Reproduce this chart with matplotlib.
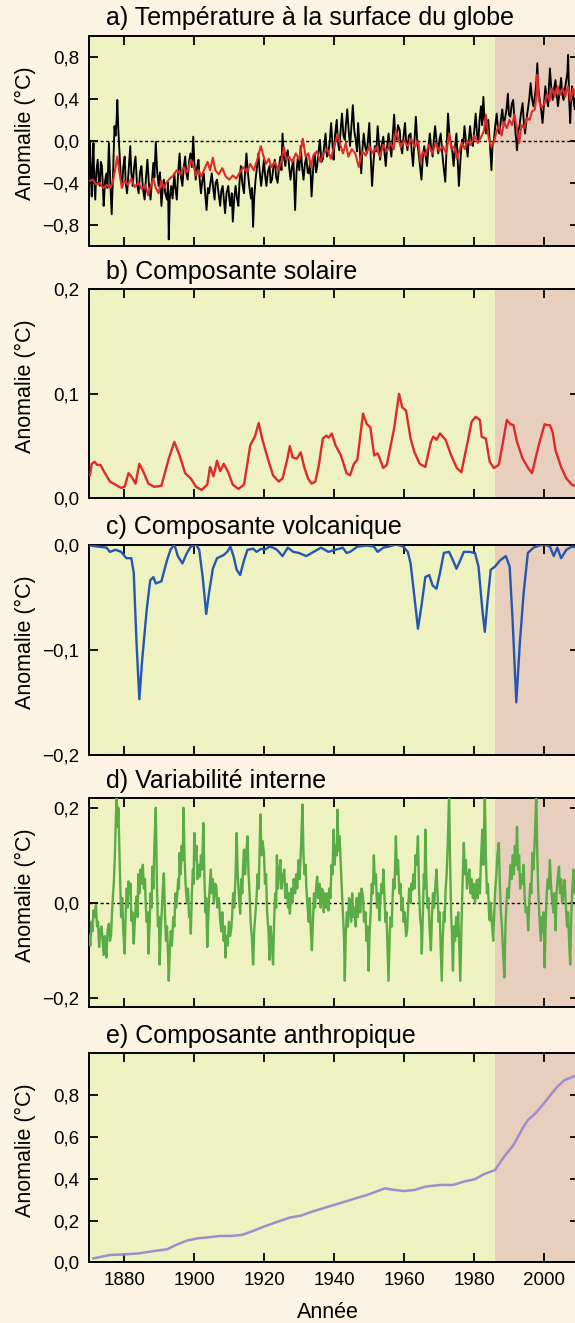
import matplotlib
matplotlib.use('Agg')
import matplotlib.pyplot as plt

plt.rcParams['font.family'] = ['Liberation Sans', 'DejaVu Sans']

# ---------------- data ----------------
# a) observed global surface temperature anomaly (black)
obs_years = [
    1870.0, 1870.2, 1870.4, 1870.7, 1870.9, 1871.2, 1871.4, 1871.7, 1872.0, 1872.4,
    1872.7, 1873.0, 1873.3, 1873.6, 1873.9, 1874.1, 1874.5, 1874.9, 1875.2, 1875.6,
    1876.0, 1876.4, 1876.8, 1877.2, 1877.5, 1877.8, 1878.0, 1878.3, 1878.6, 1879.0,
    1879.4, 1879.7, 1880.1, 1880.4, 1880.8, 1881.2, 1881.7, 1882.0, 1882.4, 1882.8,
    1883.2, 1883.6, 1884.1, 1884.5, 1884.9, 1885.3, 1885.8, 1886.2, 1886.6, 1887.0,
    1887.5, 1887.9, 1888.3, 1888.6, 1889.0, 1889.4, 1889.8, 1890.2, 1890.6, 1891.0,
    1891.3, 1891.7, 1892.2, 1892.5, 1892.7, 1893.0, 1893.4, 1893.8, 1894.3, 1894.6,
    1895.0, 1895.4, 1895.8, 1896.2, 1896.6, 1897.0, 1897.4, 1897.7, 1898.1, 1898.5,
    1898.9, 1899.3, 1899.7, 1900.0, 1900.4, 1900.8, 1901.2, 1901.5, 1901.9, 1902.3,
    1902.7, 1903.1, 1903.5, 1903.9, 1904.2, 1904.6, 1905.0, 1905.4, 1905.8, 1906.1,
    1906.5, 1907.0, 1907.4, 1907.7, 1908.1, 1908.5, 1908.8, 1909.2, 1909.7, 1910.0,
    1910.3, 1910.7, 1911.0, 1911.4, 1911.8, 1912.2, 1912.6, 1912.9, 1913.3, 1913.7,
    1914.2, 1914.5, 1914.9, 1915.3, 1915.7, 1916.2, 1916.5, 1916.8, 1917.1, 1917.5,
    1917.9, 1918.3, 1918.7, 1919.1, 1919.5, 1919.9, 1920.2, 1920.6, 1921.0, 1921.5,
    1921.8, 1922.2, 1922.6, 1923.0, 1923.4, 1923.8, 1924.2, 1924.6, 1924.9, 1925.2,
    1925.6, 1926.0, 1926.3, 1926.7, 1927.1, 1927.5, 1927.9, 1928.3, 1928.5, 1928.8,
    1929.2, 1929.6, 1930.0, 1930.4, 1930.8, 1931.2, 1931.6, 1932.0, 1932.4, 1932.7,
    1933.1, 1933.5, 1934.0, 1934.4, 1934.8, 1935.1, 1935.5, 1935.9, 1936.3, 1936.7,
    1937.1, 1937.5, 1937.9, 1938.3, 1938.7, 1939.1, 1939.5, 1939.8, 1940.2, 1940.7,
    1941.0, 1941.4, 1941.8, 1942.2, 1942.6, 1943.0, 1943.3, 1943.7, 1944.1, 1944.5,
    1944.9, 1945.3, 1945.7, 1946.1, 1946.5, 1946.8, 1947.2, 1947.7, 1948.0, 1948.4,
    1948.8, 1949.3, 1949.6, 1950.0, 1950.4, 1950.8, 1951.2, 1951.6, 1952.0, 1952.4,
    1952.7, 1953.1, 1953.5, 1954.0, 1954.3, 1954.7, 1955.1, 1955.5, 1955.9, 1956.3,
    1956.7, 1957.1, 1957.4, 1957.8, 1958.2, 1958.7, 1959.0, 1959.4, 1959.8, 1960.2,
    1960.5, 1960.9, 1961.3, 1961.8, 1962.1, 1962.5, 1962.9, 1963.3, 1963.7, 1964.1,
    1964.5, 1964.9, 1965.3, 1965.7, 1966.1, 1966.5, 1966.9, 1967.3, 1967.7, 1968.1,
    1968.4, 1968.8, 1969.2, 1969.7, 1970.0, 1970.4, 1970.8, 1971.2, 1971.7, 1972.1,
    1972.5, 1972.9, 1973.3, 1973.7, 1974.1, 1974.5, 1974.9, 1975.2, 1975.6, 1976.1,
    1976.5, 1976.8, 1977.2, 1977.6, 1978.1, 1978.4, 1978.8, 1979.2, 1979.6, 1980.0,
    1980.4, 1980.8, 1981.2, 1981.5, 1981.9, 1982.2, 1982.6, 1982.9, 1983.3, 1983.6,
    1984.0, 1984.4, 1984.9, 1985.2, 1985.6, 1986.0, 1986.4, 1986.8, 1987.2, 1987.6,
    1988.0, 1988.4, 1988.7, 1989.2, 1989.6, 1989.9, 1990.3, 1990.7, 1991.1, 1991.6,
    1992.2, 1992.6, 1992.9, 1993.3, 1993.8, 1994.1, 1994.5, 1994.9, 1995.3, 1995.7,
    1996.1, 1996.5, 1996.9, 1997.4, 1997.7, 1998.0, 1998.3, 1998.7, 1999.1, 1999.5,
    1999.9, 2000.3, 2000.7, 2001.1, 2001.3, 2001.6, 2002.0, 2002.4, 2002.8, 2003.2,
    2003.5, 2003.9, 2004.3, 2004.8, 2005.1, 2005.5, 2005.9, 2006.3, 2006.6, 2006.8,
    2007.1, 2007.4, 2007.6, 2007.9, 2008.3, 2008.7, 2009.1, 2009.5]
obs_vals = [
    -0.20, 0.00, -0.30, -0.53, -0.25, -0.02, -0.35, -0.56, -0.30, -0.18,
    -0.38, -0.43, -0.20, -0.24, -0.45, -0.62, -0.38, -0.31, -0.45, -0.02,
    -0.40, -0.70, -0.30, 0.14, 0.05, 0.20, 0.39, 0.10, -0.09, -0.35,
    -0.43, -0.25, -0.15, -0.40, -0.50, -0.30, -0.05, -0.30, -0.43, -0.25,
    -0.15, -0.40, -0.50, -0.30, -0.24, -0.45, -0.56, -0.35, -0.18, -0.40,
    -0.56, -0.38, -0.21, -0.35, -0.01, -0.30, -0.43, -0.30, -0.62, -0.45,
    -0.37, -0.50, -0.56, -0.40, -0.94, -0.55, -0.43, -0.55, -0.31, -0.45,
    -0.56, -0.30, -0.12, -0.35, -0.43, -0.25, -0.15, -0.30, -0.37, -0.20,
    -0.12, -0.25, 0.04, -0.20, -0.37, -0.25, -0.18, -0.35, -0.50, -0.38,
    -0.31, -0.50, -0.66, -0.45, -0.50, -0.40, -0.31, -0.45, -0.56, -0.40,
    -0.37, -0.52, -0.62, -0.48, -0.43, -0.58, -0.69, -0.50, -0.43, -0.55,
    -0.62, -0.50, -0.77, -0.55, -0.43, -0.55, -0.62, -0.40, -0.24, -0.40,
    -0.50, -0.30, -0.12, -0.30, -0.43, -0.55, -0.45, -0.82, -0.55, -0.37,
    -0.25, -0.12, -0.30, -0.43, -0.30, -0.18, -0.32, -0.43, -0.30, -0.24,
    -0.40, -0.37, -0.25, -0.18, -0.35, -0.40, -0.25, -0.15, -0.28, 0.07,
    -0.15, -0.24, -0.15, -0.09, -0.25, -0.37, -0.25, -0.18, -0.35, -0.66,
    -0.30, -0.15, -0.28, -0.05, -0.25, -0.37, -0.22, -0.15, -0.30, -0.31,
    -0.20, -0.53, -0.25, -0.12, -0.30, -0.24, -0.10, 0.01, -0.20, -0.18,
    -0.05, 0.07, -0.15, -0.12, 0.00, 0.17, -0.05, -0.18, 0.05, 0.20,
    0.00, -0.09, 0.10, 0.26, 0.05, 0.01, 0.15, 0.30, 0.10, -0.05,
    0.15, 0.34, 0.10, 0.01, -0.10, 0.17, -0.05, -0.31, -0.10, 0.07,
    -0.05, -0.12, 0.00, 0.17, -0.15, -0.43, -0.20, -0.05, -0.10, 0.14,
    0.00, -0.18, -0.05, 0.04, -0.10, -0.24, -0.05, 0.07, -0.05, -0.15,
    0.05, 0.25, 0.05, 0.01, 0.15, 0.10, -0.05, -0.12, 0.05, 0.17,
    0.00, -0.09, 0.05, 0.07, -0.10, -0.24, 0.00, 0.23, 0.00, -0.12,
    -0.25, -0.37, -0.15, -0.05, -0.15, -0.24, -0.05, 0.07, -0.08, -0.15,
    0.00, 0.14, 0.00, -0.12, 0.00, 0.07, -0.10, -0.24, -0.39, -0.05,
    0.26, 0.05, -0.02, -0.10, -0.24, -0.05, 0.07, -0.15, -0.43, -0.15,
    0.01, -0.05, 0.14, 0.00, -0.15, 0.00, 0.14, 0.00, -0.05, 0.10,
    0.26, 0.05, 0.01, 0.20, 0.33, 0.15, 0.42, 0.20, 0.07, 0.15,
    0.20, 0.00, -0.28, -0.05, 0.01, 0.15, 0.26, 0.10, 0.07, 0.20,
    0.30, 0.15, 0.20, 0.30, 0.45, 0.25, 0.23, 0.35, 0.39, 0.15,
    -0.09, 0.10, 0.14, 0.25, 0.36, 0.20, 0.07, 0.20, 0.30, 0.40,
    0.55, 0.40, 0.33, 0.45, 0.55, 0.74, 0.50, 0.39, 0.30, 0.17,
    0.35, 0.52, 0.40, 0.33, 0.50, 0.69, 0.50, 0.39, 0.50, 0.58,
    0.45, 0.33, 0.45, 0.60, 0.45, 0.39, 0.50, 0.58, 0.65, 0.82,
    0.40, 0.17, 0.35, 0.52, 0.40, 0.30, 0.50, 0.45]

# a) reconstructed (model) temperature (red)
model_years = [
    1870.2, 1871.0, 1872.0, 1873.0, 1874.0, 1875.0, 1876.0, 1876.8, 1877.5, 1878.0,
    1878.6, 1879.3, 1880.0, 1881.0, 1882.0, 1883.0, 1884.0, 1885.0, 1886.0, 1886.8,
    1887.5, 1888.3, 1889.0, 1889.8, 1890.6, 1891.3, 1892.0, 1893.0, 1894.0, 1895.0,
    1896.0, 1897.0, 1898.0, 1899.0, 1899.8, 1900.5, 1901.2, 1902.0, 1903.0, 1903.8,
    1904.5, 1905.3, 1906.0, 1907.0, 1908.0, 1909.0, 1910.0, 1911.0, 1912.0, 1913.0,
    1914.0, 1915.0, 1916.0, 1917.0, 1918.0, 1919.0, 1919.8, 1920.5, 1921.3, 1922.0,
    1923.0, 1924.0, 1925.0, 1925.6, 1926.3, 1927.0, 1928.0, 1929.0, 1930.0, 1931.0,
    1931.8, 1932.6, 1933.3, 1934.0, 1935.0, 1936.0, 1937.0, 1938.0, 1939.0, 1940.0,
    1941.0, 1941.8, 1942.5, 1943.3, 1944.0, 1945.0, 1946.0, 1947.0, 1948.0, 1949.0,
    1950.0, 1951.0, 1952.0, 1953.0, 1954.0, 1955.0, 1956.0, 1957.0, 1957.6, 1958.3,
    1959.0, 1960.0, 1961.0, 1962.0, 1963.0, 1964.0, 1964.6, 1965.3, 1966.0, 1967.0,
    1968.0, 1969.0, 1970.0, 1971.0, 1972.0, 1972.8, 1973.5, 1974.3, 1975.0, 1975.8,
    1976.5, 1977.3, 1978.0, 1979.0, 1980.0, 1981.0, 1982.0, 1982.8, 1983.3, 1984.0,
    1984.8, 1985.5, 1986.3, 1987.0, 1987.8, 1988.5, 1989.3, 1990.0, 1990.8, 1991.5,
    1992.0, 1992.8, 1993.5, 1994.3, 1995.0, 1995.8, 1996.5, 1997.3, 1997.8, 1998.0,
    1998.5, 1999.2, 2000.0, 2000.8, 2001.5, 2002.2, 2003.0, 2003.8, 2004.5, 2005.3,
    2006.0, 2006.8, 2007.5, 2008.2, 2009.0]
model_vals = [
    -0.38, -0.37, -0.42, -0.40, -0.45, -0.42, -0.45, -0.38, -0.25, -0.15,
    -0.30, -0.45, -0.38, -0.42, -0.36, -0.44, -0.40, -0.46, -0.42, -0.52,
    -0.44, -0.36, -0.45, -0.50, -0.38, -0.45, -0.40, -0.36, -0.33, -0.28,
    -0.32, -0.25, -0.30, -0.18, -0.24, -0.33, -0.28, -0.34, -0.26, -0.20,
    -0.28, -0.16, -0.28, -0.32, -0.26, -0.34, -0.37, -0.33, -0.36, -0.30,
    -0.25, -0.30, -0.22, -0.28, -0.18, -0.05, -0.15, -0.22, -0.17, -0.25,
    -0.20, -0.28, -0.18, -0.06, -0.18, -0.15, -0.20, -0.12, -0.18, 0.02,
    -0.15, -0.12, -0.25, -0.14, -0.10, -0.20, -0.12, -0.08, -0.17, -0.05,
    0.06, -0.05, -0.12, -0.02, -0.15, -0.08, -0.12, -0.25, -0.10, -0.14,
    -0.05, -0.12, -0.06, -0.15, -0.04, -0.10, -0.02, -0.08, 0.10, 0.02,
    -0.06, 0.00, -0.05, 0.02, -0.06, 0.00, -0.20, -0.10, -0.14, -0.04,
    -0.12, -0.02, -0.10, -0.05, -0.12, 0.07, -0.08, -0.05, -0.17, -0.08,
    -0.02, -0.08, 0.00, -0.04, 0.05, -0.02, 0.04, 0.10, 0.25, 0.05,
    -0.06, -0.02, 0.08, 0.15, 0.05, 0.18, 0.12, 0.20, 0.15, 0.25,
    0.15, -0.02, 0.15, 0.12, 0.22, 0.20, 0.28, 0.30, 0.45, 0.63,
    0.38, 0.32, 0.35, 0.45, 0.38, 0.50, 0.42, 0.52, 0.44, 0.50,
    0.42, 0.52, 0.38, 0.50, 0.44]

# b) solar component
solar_years = [
    1870.2, 1870.7, 1871.5, 1872.2, 1873.2, 1874.3, 1875.9, 1877.5, 1879.1, 1880.1,
    1881.2, 1882.0, 1883.2, 1884.3, 1885.5, 1886.9, 1888.5, 1890.6, 1892.7, 1894.3,
    1895.8, 1897.4, 1899.0, 1900.5, 1902.1, 1903.7, 1904.5, 1905.5, 1906.5, 1907.4,
    1908.4, 1909.7, 1911.0, 1912.6, 1914.2, 1916.0, 1917.3, 1918.4, 1919.4, 1921.0,
    1922.5, 1924.1, 1925.2, 1926.4, 1927.3, 1928.1, 1929.3, 1930.4, 1931.4, 1932.5,
    1933.5, 1934.6, 1935.6, 1936.7, 1937.7, 1938.4, 1939.3, 1940.3, 1941.9, 1943.5,
    1944.5, 1945.6, 1946.6, 1948.2, 1949.3, 1950.3, 1951.4, 1952.4, 1954.0, 1955.0,
    1957.1, 1958.5, 1959.4, 1960.5, 1961.8, 1962.9, 1964.4, 1966.0, 1967.6, 1968.3,
    1969.2, 1970.2, 1971.8, 1973.4, 1975.0, 1976.3, 1978.1, 1979.2, 1980.4, 1981.6,
    1982.1, 1983.3, 1984.4, 1985.6, 1987.0, 1988.2, 1989.3, 1990.3, 1991.2, 1992.2,
    1993.8, 1995.4, 1996.5, 1997.7, 1998.5, 2000.1, 2000.8, 2001.6, 2002.4, 2003.2,
    2004.8, 2006.3, 2007.9, 2008.8, 2009.5]
solar_vals = [
    0.022, 0.033, 0.035, 0.032, 0.032, 0.025, 0.016, 0.013, 0.010, 0.011,
    0.024, 0.021, 0.014, 0.033, 0.025, 0.014, 0.011, 0.012, 0.038, 0.054,
    0.041, 0.024, 0.019, 0.011, 0.008, 0.013, 0.030, 0.021, 0.036, 0.026,
    0.033, 0.025, 0.013, 0.009, 0.013, 0.051, 0.059, 0.072, 0.057, 0.038,
    0.022, 0.016, 0.019, 0.035, 0.050, 0.039, 0.038, 0.044, 0.030, 0.019,
    0.014, 0.016, 0.032, 0.057, 0.060, 0.058, 0.062, 0.051, 0.041, 0.024,
    0.022, 0.033, 0.037, 0.081, 0.071, 0.068, 0.041, 0.043, 0.029, 0.032,
    0.067, 0.100, 0.087, 0.084, 0.057, 0.044, 0.033, 0.030, 0.054, 0.059,
    0.056, 0.062, 0.056, 0.041, 0.029, 0.025, 0.054, 0.073, 0.078, 0.075,
    0.059, 0.057, 0.035, 0.029, 0.032, 0.054, 0.075, 0.071, 0.070, 0.054,
    0.038, 0.029, 0.024, 0.041, 0.052, 0.071, 0.070, 0.070, 0.063, 0.046,
    0.030, 0.019, 0.013, 0.012, 0.012]

# c) volcanic component
volc_years = [
    1870.2, 1874.9, 1875.9, 1877.5, 1879.1, 1880.6, 1882.0, 1882.7, 1883.5, 1884.3,
    1885.1, 1886.4, 1887.4, 1888.3, 1889.0, 1890.6, 1892.2, 1893.2, 1894.3, 1895.3,
    1896.6, 1897.9, 1899.0, 1900.5, 1901.4, 1902.4, 1903.4, 1904.2, 1905.3, 1906.5,
    1908.4, 1909.4, 1910.3, 1911.2, 1912.1, 1913.1, 1914.2, 1915.2, 1916.8, 1917.8,
    1919.1, 1920.1, 1921.5, 1922.5, 1923.6, 1925.2, 1926.7, 1928.3, 1929.9, 1932.0,
    1934.1, 1936.2, 1938.3, 1940.3, 1942.4, 1943.5, 1944.5, 1946.6, 1949.3, 1951.3,
    1952.4, 1954.0, 1955.5, 1957.6, 1959.7, 1961.0, 1961.8, 1962.9, 1963.9, 1965.0,
    1966.0, 1967.1, 1968.1, 1969.2, 1970.2, 1971.3, 1972.8, 1973.9, 1974.9, 1976.0,
    1977.0, 1978.6, 1980.2, 1981.2, 1982.3, 1983.0, 1983.8, 1984.7, 1985.9, 1987.4,
    1989.0, 1990.1, 1990.9, 1992.0, 1993.0, 1994.1, 1995.3, 1996.9, 1998.5, 2000.1,
    2001.6, 2002.7, 2003.7, 2004.8, 2006.3, 2007.9, 2009.5]
volc_vals = [
    -0.001, -0.003, -0.007, -0.005, -0.007, -0.013, -0.013, -0.027, -0.094, -0.147,
    -0.110, -0.062, -0.034, -0.031, -0.037, -0.035, -0.015, -0.005, 0.000, -0.011,
    -0.018, -0.008, -0.002, 0.000, -0.005, -0.031, -0.066, -0.046, -0.023, -0.013,
    -0.010, -0.007, -0.002, -0.011, -0.024, -0.029, -0.015, -0.005, -0.004, -0.007,
    -0.004, -0.005, -0.002, -0.003, -0.005, -0.011, -0.003, -0.007, -0.008, -0.011,
    -0.007, -0.003, -0.007, -0.005, -0.003, -0.008, -0.007, -0.002, -0.001, -0.002,
    -0.007, -0.003, -0.002, 0.000, -0.002, -0.007, -0.018, -0.050, -0.080, -0.056,
    -0.031, -0.029, -0.039, -0.042, -0.027, -0.008, -0.007, -0.015, -0.023, -0.015,
    -0.007, -0.007, -0.008, -0.021, -0.062, -0.083, -0.053, -0.024, -0.021, -0.015,
    -0.011, -0.021, -0.069, -0.150, -0.094, -0.046, -0.008, -0.003, -0.001, 0.000,
    -0.002, -0.011, -0.003, -0.013, -0.005, -0.002, -0.003]

# d) internal variability
intvar_years = [
    1870.0, 1870.3, 1870.6, 1870.9, 1871.2, 1871.5, 1871.9, 1872.2, 1872.5, 1872.8,
    1873.1, 1873.5, 1873.8, 1874.1, 1874.4, 1874.7, 1874.9, 1875.2, 1875.6, 1875.9,
    1876.2, 1876.5, 1876.8, 1877.0, 1877.3, 1877.6, 1877.8, 1878.1, 1878.3, 1878.5,
    1878.8, 1879.1, 1879.4, 1879.7, 1880.1, 1880.4, 1880.7, 1881.0, 1881.2, 1881.5,
    1881.8, 1882.0, 1882.3, 1882.7, 1883.0, 1883.3, 1883.5, 1883.8, 1884.0, 1884.3,
    1884.6, 1884.9, 1885.3, 1885.6, 1885.9, 1886.1, 1886.4, 1886.7, 1886.9, 1887.2,
    1887.5, 1887.8, 1888.0, 1888.3, 1888.6, 1889.0, 1889.3, 1889.6, 1889.9, 1890.1,
    1890.4, 1890.7, 1891.0, 1891.3, 1891.6, 1891.9, 1892.2, 1892.5, 1892.7, 1893.0,
    1893.3, 1893.6, 1894.0, 1894.3, 1894.6, 1894.8, 1895.1, 1895.4, 1895.6, 1895.8,
    1896.1, 1896.4, 1896.7, 1896.9, 1897.2, 1897.5, 1897.9, 1898.2, 1898.5, 1898.8,
    1899.0, 1899.3, 1899.6, 1899.8, 1900.0, 1900.3, 1900.6, 1900.9, 1901.2, 1901.6,
    1901.9, 1902.2, 1902.6, 1902.9, 1903.2, 1903.4, 1903.7, 1904.0, 1904.3, 1904.7,
    1905.0, 1905.3, 1905.6, 1906.0, 1906.3, 1906.6, 1907.0, 1907.4, 1907.7, 1908.0,
    1908.4, 1908.7, 1908.9, 1909.2, 1909.5, 1909.9, 1910.2, 1910.5, 1910.8, 1911.1,
    1911.4, 1911.8, 1912.1, 1912.4, 1912.7, 1913.1, 1913.4, 1913.7, 1914.0, 1914.2,
    1914.5, 1914.8, 1915.2, 1915.5, 1915.8, 1916.1, 1916.5, 1916.8, 1917.1, 1917.5,
    1917.8, 1918.1, 1918.4, 1918.7, 1918.9, 1919.2, 1919.5, 1919.9, 1920.2, 1920.5,
    1920.8, 1921.2, 1921.5, 1921.8, 1922.1, 1922.5, 1922.8, 1923.1, 1923.4, 1923.6,
    1923.9, 1924.2, 1924.6, 1924.9, 1925.2, 1925.7, 1926.0, 1926.4, 1926.8, 1927.1,
    1927.3, 1927.7, 1928.0, 1928.4, 1928.8, 1929.1, 1929.4, 1929.8, 1930.1, 1930.5,
    1930.9, 1931.2, 1931.5, 1931.8, 1932.0, 1932.3, 1932.7, 1933.0, 1933.3, 1933.6,
    1933.9, 1934.2, 1934.5, 1934.8, 1935.1, 1935.4, 1935.8, 1936.1, 1936.4, 1936.7,
    1937.0, 1937.3, 1937.7, 1938.0, 1938.3, 1938.6, 1938.9, 1939.2, 1939.5, 1939.8,
    1940.1, 1940.4, 1940.7, 1940.9, 1941.2, 1941.5, 1941.9, 1942.2, 1942.5, 1942.8,
    1943.0, 1943.3, 1943.6, 1943.9, 1944.2, 1944.5, 1944.8, 1945.1, 1945.4, 1945.8,
    1946.1, 1946.4, 1946.7, 1947.1, 1947.4, 1947.8, 1948.2, 1948.5, 1948.9, 1949.2,
    1949.5, 1949.8, 1950.1, 1950.4, 1950.7, 1951.0, 1951.3, 1951.6, 1951.9, 1952.2,
    1952.6, 1952.9, 1953.2, 1953.5, 1953.8, 1954.0, 1954.3, 1954.6, 1954.9, 1955.2,
    1955.5, 1955.8, 1956.1, 1956.4, 1956.6, 1956.9, 1957.2, 1957.6, 1957.9, 1958.2,
    1958.6, 1958.9, 1959.2, 1959.5, 1959.8, 1960.1, 1960.5, 1960.8, 1961.1, 1961.4,
    1961.8, 1962.0, 1962.3, 1962.6, 1962.9, 1963.2, 1963.5, 1963.9, 1964.2, 1964.5,
    1964.8, 1965.0, 1965.3, 1965.6, 1965.8, 1966.0, 1966.3, 1966.6, 1966.9, 1967.2,
    1967.6, 1967.9, 1968.2, 1968.5, 1968.9, 1969.2, 1969.5, 1969.8, 1970.1, 1970.4,
    1970.7, 1971.0, 1971.3, 1971.5, 1971.8, 1972.1, 1972.4, 1972.8, 1973.1, 1973.4,
    1973.6, 1973.9, 1974.2, 1974.5, 1974.8, 1975.1, 1975.4, 1975.7, 1976.0, 1976.3,
    1976.6, 1977.0, 1977.3, 1977.6, 1977.9, 1978.2, 1978.6, 1978.9, 1979.2, 1979.6,
    1979.9, 1980.2, 1980.5, 1980.7, 1981.0, 1981.3, 1981.6, 1981.9, 1982.3, 1982.6,
    1983.0, 1983.3, 1983.6, 1983.9, 1984.2, 1984.4, 1984.7, 1985.0, 1985.4, 1985.7,
    1986.0, 1986.3, 1986.6, 1987.0, 1987.3, 1987.6, 1987.9, 1988.2, 1988.6, 1988.9,
    1989.2, 1989.5, 1989.8, 1990.1, 1990.4, 1990.7, 1991.0, 1991.3, 1991.6, 1991.9,
    1992.2, 1992.5, 1992.8, 1993.1, 1993.5, 1993.8, 1994.1, 1994.4, 1994.7, 1995.1,
    1995.4, 1995.7, 1996.0, 1996.3, 1996.6, 1996.9, 1997.2, 1997.5, 1997.7, 1998.0,
    1998.3, 1998.6, 1999.0, 1999.3, 1999.6, 1999.8, 2000.1, 2000.4, 2000.7, 2001.0,
    2001.3, 2001.6, 2001.9, 2002.2, 2002.6, 2002.9, 2003.2, 2003.5, 2003.8, 2004.2,
    2004.5, 2004.8, 2005.1, 2005.5, 2005.8, 2006.1, 2006.5, 2006.8, 2007.1, 2007.4,
    2007.7, 2008.0, 2008.4, 2008.7, 2009.0, 2009.5]
intvar_vals = [
    -0.070, -0.090, -0.040, -0.060, -0.016, -0.030, -0.005, -0.050, -0.040, -0.093,
    -0.060, -0.050, -0.080, -0.110, -0.070, -0.100, -0.115, -0.060, -0.044, -0.080,
    -0.070, -0.020, 0.020, 0.040, 0.100, 0.180, 0.230, 0.160, 0.200, 0.140,
    0.050, -0.030, 0.010, -0.060, -0.107, -0.020, 0.030, -0.010, 0.045, 0.020,
    0.040, -0.037, -0.020, -0.086, -0.040, 0.000, 0.013, -0.030, 0.060, 0.020,
    0.070, 0.040, 0.080, 0.030, 0.050, 0.000, -0.040, -0.020, -0.107, -0.050,
    0.020, -0.010, 0.076, 0.030, 0.120, 0.200, 0.050, -0.050, -0.030, -0.130,
    -0.060, -0.020, 0.030, 0.062, -0.020, -0.080, -0.050, -0.110, -0.164, -0.100,
    -0.060, -0.090, -0.030, -0.050, 0.020, -0.010, 0.013, 0.050, 0.030, 0.105,
    0.060, 0.120, 0.090, 0.200, 0.100, 0.040, 0.000, 0.030, -0.030, -0.020,
    -0.065, 0.020, 0.070, 0.040, 0.147, 0.090, 0.120, 0.050, 0.080, 0.055,
    0.100, 0.070, 0.168, 0.050, -0.020, 0.010, -0.093, -0.030, 0.020, 0.070,
    0.020, 0.050, 0.000, 0.040, 0.034, -0.010, 0.010, -0.037, -0.060, -0.020,
    -0.080, -0.050, -0.115, -0.070, -0.090, -0.040, -0.070, -0.058, -0.030, 0.020,
    -0.010, 0.060, 0.147, 0.060, 0.020, -0.023, 0.050, 0.020, 0.090, 0.112,
    0.060, 0.100, 0.140, 0.060, 0.020, -0.040, -0.080, -0.130, -0.060, -0.020,
    0.013, 0.060, 0.030, 0.120, 0.186, 0.100, 0.130, 0.105, 0.040, 0.060,
    -0.020, -0.060, -0.120, -0.050, -0.080, -0.130, -0.040, 0.020, -0.010, 0.100,
    0.030, 0.060, 0.090, 0.030, 0.050, 0.070, 0.010, 0.040, -0.010, 0.020,
    -0.023, 0.030, 0.000, 0.050, 0.020, 0.060, 0.030, 0.090, 0.050, 0.120,
    0.207, 0.100, 0.060, 0.080, 0.034, 0.000, -0.040, 0.010, -0.060, -0.100,
    -0.040, 0.020, -0.010, 0.030, 0.055, 0.010, 0.040, -0.010, 0.030, 0.027,
    -0.020, 0.020, -0.010, 0.020, -0.016, 0.030, 0.010, 0.080, 0.060, 0.154,
    0.080, 0.120, 0.100, 0.196, 0.110, 0.140, 0.070, 0.020, -0.030, -0.080,
    -0.164, -0.060, -0.020, -0.050, 0.010, 0.000, -0.040, 0.020, -0.030, -0.010,
    -0.050, 0.010, -0.030, 0.020, -0.020, 0.030, 0.013, -0.040, -0.020, -0.080,
    -0.050, -0.143, -0.060, -0.020, 0.040, 0.020, 0.100, 0.040, 0.060, -0.010,
    0.020, -0.037, 0.010, 0.040, 0.020, 0.070, 0.020, -0.040, -0.020, -0.090,
    -0.164, -0.070, -0.030, -0.050, 0.000, 0.050, 0.030, 0.140, 0.060, 0.090,
    0.020, 0.040, -0.016, 0.010, -0.040, -0.020, -0.070, -0.058, -0.010, 0.030,
    0.000, 0.040, 0.027, 0.060, 0.030, 0.100, 0.080, 0.140, 0.030, -0.030,
    -0.050, -0.107, -0.020, 0.060, 0.030, 0.154, 0.050, -0.010, 0.010, -0.050,
    -0.100, -0.030, 0.020, -0.010, 0.040, 0.070, 0.020, -0.040, -0.020, -0.090,
    -0.164, -0.070, -0.020, -0.040, 0.027, 0.060, 0.120, 0.230, 0.080, -0.030,
    -0.060, -0.143, -0.050, -0.080, -0.030, -0.070, -0.020, -0.090, -0.164, -0.060,
    0.030, 0.126, 0.060, 0.090, 0.030, 0.050, 0.070, 0.020, 0.050, 0.010,
    0.040, 0.000, 0.030, 0.048, 0.010, 0.050, 0.020, 0.090, 0.154, 0.080,
    0.230, 0.100, 0.020, 0.040, -0.020, -0.037, 0.000, -0.040, -0.080, -0.020,
    0.030, 0.060, 0.100, 0.126, 0.040, -0.020, -0.050, -0.100, -0.157, -0.050,
    0.000, 0.030, 0.010, 0.048, 0.080, 0.050, 0.100, 0.060, 0.120, 0.080,
    0.160, 0.070, 0.100, 0.030, 0.060, 0.040, 0.080, 0.010, -0.020, -0.010,
    -0.058, 0.000, 0.040, 0.020, 0.105, 0.070, 0.120, 0.180, 0.230, 0.100,
    0.020, -0.030, -0.080, -0.030, -0.060, -0.020, -0.136, -0.040, 0.020, 0.050,
    0.030, 0.090, 0.040, 0.010, -0.020, 0.020, -0.058, 0.020, 0.050, 0.076,
    0.020, 0.050, 0.000, 0.030, 0.048, 0.000, -0.050, -0.020, -0.080, -0.130,
    -0.030, 0.030, 0.070, 0.020, 0.040, 0.000]

# e) anthropogenic component
anthro_years = [
    1871.2, 1875.9, 1880.1, 1884.3, 1888.5, 1892.2, 1894.8, 1897.9, 1901.1, 1904.2,
    1907.4, 1910.5, 1913.6, 1916.8, 1919.9, 1923.1, 1927.3, 1930.4, 1933.6, 1936.7,
    1939.8, 1943.0, 1946.1, 1949.3, 1952.4, 1954.5, 1956.1, 1959.7, 1962.9, 1966.0,
    1970.2, 1973.9, 1977.0, 1980.2, 1982.8, 1985.9, 1988.5, 1991.2, 1993.8, 1995.3,
    1997.4, 1999.5, 2001.6, 2003.7, 2005.8, 2008.8, 2009.5]
anthro_vals = [
    0.019, 0.035, 0.038, 0.043, 0.054, 0.062, 0.083, 0.104, 0.115, 0.120,
    0.126, 0.126, 0.131, 0.150, 0.171, 0.190, 0.214, 0.223, 0.242, 0.258,
    0.274, 0.290, 0.306, 0.322, 0.341, 0.354, 0.349, 0.341, 0.346, 0.362,
    0.370, 0.370, 0.386, 0.398, 0.422, 0.441, 0.505, 0.561, 0.641, 0.680,
    0.712, 0.752, 0.797, 0.840, 0.872, 0.892, 0.895]

titles = ["a) Température à la surface du globe", "b) Composante solaire",
          "c) Composante volcanique", "d) Variabilité interne",
          "e) Composante anthropique"]
yticks = [[-0.8, -0.4, 0.0, 0.4, 0.8], [0.0, 0.1, 0.2], [-0.2, -0.1, 0.0],
          [-0.2, 0.0, 0.2], [0.0, 0.2, 0.4, 0.6, 0.8]]
ylims = [(-1.0, 1.0), (0.0, 0.2), (-0.2, 0.0), (-0.22, 0.22), (0.0, 1.0)]
xticks = [1880, 1900, 1920, 1940, 1960, 1980, 2000]
recent_start = 1986

# ---------------- style ----------------
BG = '#fdf3e2'
GREEN = '#eef1c0'
PINK = '#e8cebc'

W, H = 575.0, 1323.0
fig = plt.figure(figsize=(5.75, 13.23), dpi=100)
fig.patch.set_facecolor(BG)

tops = [36, 289.3, 544.5, 798.3, 1053.3]
bots = [245.7, 498.3, 755.0, 1007.3, 1262.3]
LEFT = 89.3
XMIN, XMAX = 1870, 2010
AXW = (XMAX - XMIN) * 3.5


def fmt(v):
    s = f"{abs(v):.1f}".replace('.', ',')
    return ('\u2212' if v < -1e-9 else '') + s


axes = []
for i in range(5):
    ax = fig.add_axes([LEFT / W, 1 - bots[i] / H, AXW / W, (bots[i] - tops[i]) / H])
    ax.set_facecolor(GREEN)
    ax.axvspan(recent_start, XMAX, color=PINK, lw=0, zorder=0)
    ax.set_xlim(XMIN, XMAX)
    ax.set_ylim(*ylims[i])
    ax.set_xticks(xticks)
    ax.set_yticks(yticks[i])
    ax.set_yticklabels([fmt(v) for v in yticks[i]])
    ax.tick_params(direction='in', top=True, right=True, length=6.5, width=1.3,
                   labelsize=13.5, pad=7, colors='black')
    ax.tick_params(axis='x', labelbottom=(i == 4))
    for sp in ax.spines.values():
        sp.set_linewidth(1.4)
    ax.set_xticklabels([str(x) for x in xticks])
    fig.text(106 / W, 1 - (tops[i] - 10.5) / H, titles[i], fontsize=18,
             ha='left', va='baseline')
    yc = (tops[i] + bots[i]) / 2 - 8
    fig.text(25 / W, 1 - yc / H, 'Anomalie (°C)', fontsize=15.5, rotation=90,
             ha='center', va='center')
    axes.append(ax)

dash = (0, (2.2, 1.8))
axes[0].axhline(0, color='black', lw=1.0, ls=dash, zorder=1.5)
axes[0].plot(obs_years, obs_vals, color='black', lw=1.35, zorder=2)
axes[0].plot(model_years, model_vals, color='#e02a2a', lw=1.5, zorder=3)

axes[1].plot(solar_years, solar_vals, color='#e02a2a', lw=1.7, zorder=3)
axes[2].plot(volc_years, volc_vals, color='#2458b0', lw=1.7, zorder=3)

axes[3].axhline(0, color='black', lw=1.0, ls=dash, zorder=1.5)
axes[3].plot(intvar_years, intvar_vals, color='#5aac46', lw=1.7, zorder=3)

axes[4].plot(anthro_years, anthro_vals, color='#a08ccf', lw=1.8, zorder=3)

fig.text(328 / W, 1 - 1318 / H, 'Année', fontsize=15.5, ha='center', va='baseline')

fig.savefig('out.png', dpi=100, facecolor=BG)
